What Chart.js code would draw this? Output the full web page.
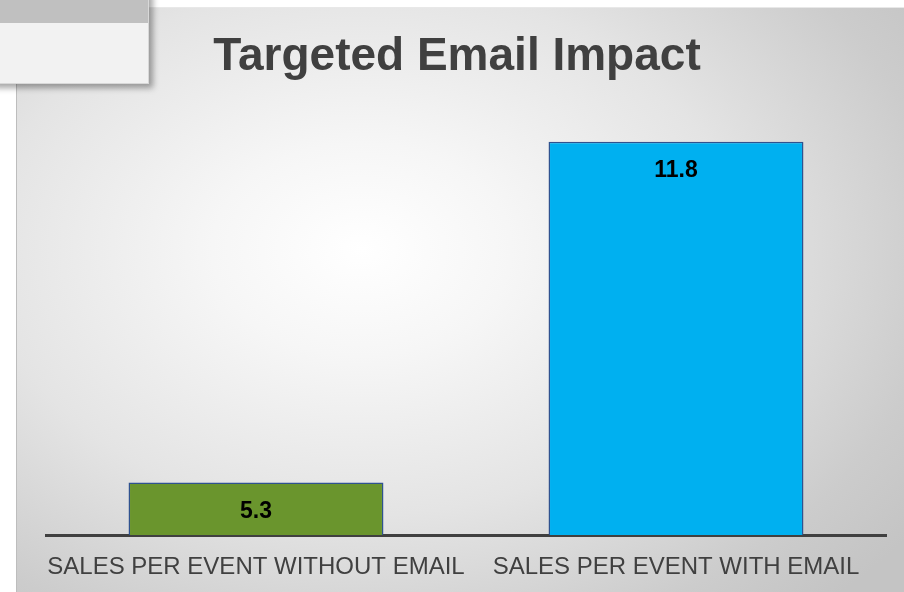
<!DOCTYPE html>
<html>
<head>
<meta charset="utf-8">
<script src="https://cdn.jsdelivr.net/npm/chart.js@4.4.1/dist/chart.umd.min.js"></script>
<style>
  html, body { margin: 0; padding: 0; background: #ffffff; }
  #wrap { position: relative; width: 904px; height: 592px; overflow: hidden; background: #ffffff; }
  #slide {
    position: absolute; left: 16px; top: 7px; right: -20px; bottom: -20px;
    background: radial-gradient(ellipse 75% 80% at 38% 40%, #ffffff 0%, #f6f6f6 22%, #e4e4e4 55%, #cccccc 85%, #c4c4c4 100%);
    border-left: 1px solid #bdbdbd; border-top: 1px solid #e8e8e8;
  }
  #tab {
    position: absolute; left: -10px; top: -10px; width: 158px; height: 93px;
    background: linear-gradient(#c0c0c0 0, #c0c0c0 33px, #f2f2f2 33px);
    border-right: 1px solid #d8d8d8; border-bottom: 1px solid #d8d8d8;
    box-shadow: 4px 4px 6px rgba(0,0,0,0.35);
  }
  canvas { position: absolute; left: 0; top: 0; }
</style>
</head>
<body>
<div id="wrap">
  <div id="slide"></div>
  <div id="tab"></div>
  <canvas id="impact" width="904" height="592"></canvas>
</div>
<script>
const categories = ["SALES PER EVENT WITHOUT EMAIL", "SALES PER EVENT WITH EMAIL"];
const salesValues = [5.3, 11.8];
const barColors = ["#6a952d", "#00b0f0"];
const axisMin = 4.3;
const axisMax = 12;

// value labels inside the bars
const valueLabels = {
    id: "valueLabels",
    afterDatasetsDraw(chart) {
        const ctx = chart.ctx;
        const meta = chart.getDatasetMeta(0);
        ctx.save();
        ctx.font = "bold 23px 'Liberation Sans', Arial, sans-serif";
        ctx.fillStyle = "#000000";
        ctx.textAlign = "center";
        ctx.textBaseline = "alphabetic";
        meta.data.forEach((bar, i) => {
            ctx.fillText(String(salesValues[i]), bar.x, bar.y + 35);
        });
        ctx.restore();
    }
};

const data = {
    labels: categories,
    datasets: [
        {
            label: "Sales",
            data: salesValues,
            backgroundColor: barColors,
            borderColor: "#2f528f",
            borderWidth: 1.5,
            barPercentage: 0.607,
            categoryPercentage: 1,
        },
    ],
};

// config
const config = {
    type: "bar",
    data,
    options: {
        responsive: false,
        animation: false,
        layout: { padding: { left: 28, right: 18, top: 0, bottom: 0 } },
        plugins: {
            legend: { display: false },
            tooltip: { enabled: false },
            title: {
                display: true,
                text: "Targeted Email Impact",
                color: "#404040",
                font: { family: "'Liberation Sans', Arial, sans-serif", size: 46, weight: "bold" },
                padding: { top: 30, bottom: 46 },
            },
        },
        scales: {
            x: {
                grid: { display: false, drawTicks: false },
                border: { display: true, color: "#404040", width: 3 },
                ticks: {
                    color: "#404040",
                    padding: 18,
                    font: { family: "'Liberation Sans', Arial, sans-serif", size: 24 },
                    maxRotation: 0,
                    autoSkip: false,
                },
                afterFit(scale) { scale.height = 57; },
            },
            y: {
                min: axisMin,
                max: axisMax,
                grid: { display: false, drawTicks: false },
                border: { display: false },
                ticks: { display: false },
                afterFit(scale) { scale.width = 18; },
            },
        },
    },
    plugins: [valueLabels],
};

const impactChart = new Chart(document.getElementById("impact"), config);
</script>
</body>
</html>
